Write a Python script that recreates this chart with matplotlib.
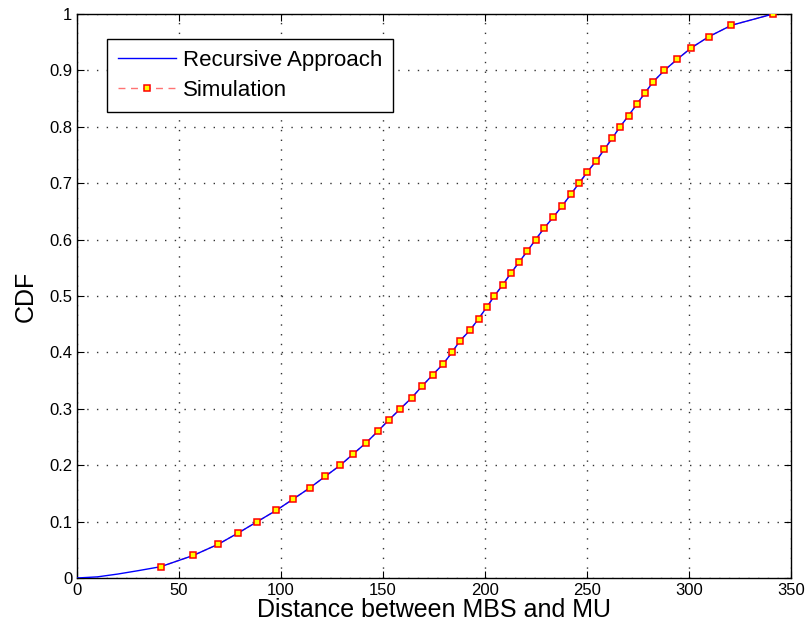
import matplotlib
matplotlib.use("Agg")
import matplotlib.pyplot as plt

plt.rcParams["font.family"] = ["Liberation Sans", "DejaVu Sans"]

# ── data ────────────────────────────────────────────────────────────────────
cdf_levels = [0.02, 0.04, 0.06, 0.08, 0.10, 0.12, 0.14, 0.16, 0.18, 0.20,
              0.22, 0.24, 0.26, 0.28, 0.30, 0.32, 0.34, 0.36, 0.38, 0.40,
              0.42, 0.44, 0.46, 0.48, 0.50, 0.52, 0.54, 0.56, 0.58, 0.60,
              0.62, 0.64, 0.66, 0.68, 0.70, 0.72, 0.74, 0.76, 0.78, 0.80,
              0.82, 0.84, 0.86, 0.88, 0.90, 0.92, 0.94, 0.96, 0.98, 1.00]
sim_dist = [41.0, 57.0, 69.3, 79.1, 88.4, 97.7, 106.0, 114.2, 121.6, 129.1,
            135.4, 141.8, 147.4, 152.8, 158.5, 164.2, 169.1, 174.3, 179.6, 183.8,
            187.6, 192.8, 196.9, 200.8, 204.6, 208.7, 212.6, 216.7, 220.8, 224.8,
            228.9, 233.5, 237.9, 242.0, 246.1, 250.2, 254.6, 258.5, 262.4, 266.2,
            270.4, 274.4, 278.4, 282.5, 287.9, 294.3, 301.1, 309.8, 320.8, 341.2]

# analytical curve: low tail read separately, then the same points
rec_head_dist = [0, 10, 20, 30]
rec_head_cdf = [0, 0.002, 0.007, 0.013]
rec_dist = rec_head_dist + sim_dist
rec_cdf = rec_head_cdf + cdf_levels

x_ticks = [0, 50, 100, 150, 200, 250, 300, 350]
y_ticks = [0, 0.1, 0.2, 0.3, 0.4, 0.5, 0.6, 0.7, 0.8, 0.9, 1]
y_ticklabels = ["0", "0.1", "0.2", "0.3", "0.4", "0.5", "0.6", "0.7", "0.8", "0.9", "1"]


# ─────────────────────────────────────────────────────────────────────────────
fig = plt.figure(figsize=(8.08, 6.33), dpi=100)
ax = fig.add_axes([0.0953, 0.0869, 0.8837, 0.8910])

ax.plot(rec_dist, rec_cdf, color="blue", lw=1.0, label="Recursive Approach", zorder=3)
ax.plot(sim_dist, cdf_levels, color="red", ls="--", lw=1.0, alpha=0.55, zorder=2)
ax.plot(sim_dist, cdf_levels, ls="none", marker="s", ms=4.5, mfc="yellow",
        mec="red", mew=1.1, zorder=4)
# legend proxy: dashed pink line + square marker
ax.plot([], [], color=(1, 0.45, 0.45), ls=(0, (5, 4)), lw=1.0, marker="s", ms=4.5,
        mfc="yellow", mec="red", mew=1.1, label="Simulation")

ax.set_xlim(0, 350)
ax.set_ylim(0, 1)
ax.set_xticks(x_ticks)
ax.set_yticks(y_ticks)
ax.set_yticklabels(y_ticklabels)
ax.tick_params(direction="in", top=True, right=True, labelsize=12, length=5, width=0.8)
ax.grid(True, ls=(0, (1, 6)), color="0.2", lw=1.0)
for s in ax.spines.values():
    s.set_linewidth(1.0)

ax.set_xlabel("Distance between MBS and MU", fontsize=18, labelpad=0)
ax.set_ylabel("CDF", fontsize=18, labelpad=8)

leg = ax.legend(loc="upper left", bbox_to_anchor=(0.042, 0.956), fontsize=16,
                fancybox=False, framealpha=1, edgecolor="black",
                handlelength=2.6, borderpad=0.5, labelspacing=0.4, handletextpad=0.3,
                borderaxespad=0)
leg.get_frame().set_linewidth(1.0)

fig.savefig("out.png", dpi=100)
